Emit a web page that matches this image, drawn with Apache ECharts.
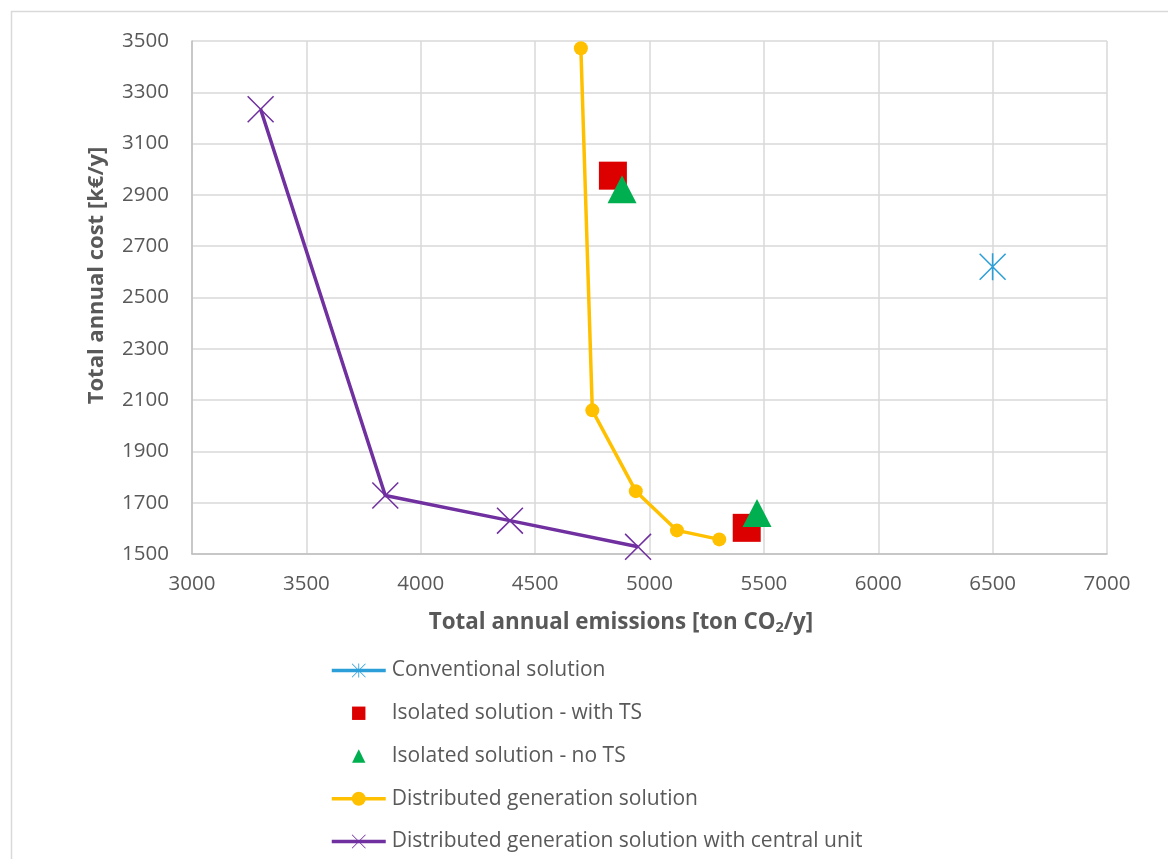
<!DOCTYPE html>
<html>
<head>
<meta charset="utf-8">
<script src="https://cdn.jsdelivr.net/npm/echarts@6/dist/echarts.min.js"></script>
<style>
html,body{margin:0;padding:0;background:#fff;}
#chart{width:1168px;height:859px;}
</style>
</head>
<body>
<div id="chart"></div>
<script>
// ---- data ----
const conventional = [[6500, 2620]];
const isolatedWithTS = [[4840, 2975], [5425, 1602]];
const isolatedNoTS = [[4880, 2922], [5470, 1660]];
const distributedGen = [[4700, 3472], [4750, 2060], [4940, 1745], [5120, 1592], [5305, 1557]];
const distributedCentral = [[3300, 3234], [3845, 1728], [4390, 1630], [4950, 1528]];
const seriesNames = [
  'Conventional solution',
  'Isolated solution - with TS',
  'Isolated solution - no TS',
  'Distributed generation solution',
  'Distributed generation solution with central unit'
];
const xTitle = 'Total annual emissions [ton CO{sub|2}/y]';
const yTitle = 'Total annual cost [k€/y]';

const FONT = '"Open Sans", Lato, sans-serif';
const TXT = '#595959';
const xPath = 'path://M0,4 L4,0 L100,96 L96,100 Z M96,0 L100,4 L4,100 L0,96 Z';
const starPath = 'path://M0,4 L4,0 L100,96 L96,100 Z M96,0 L100,4 L4,100 L0,96 Z M47,0 L53,0 L53,100 L47,100 Z';
const legendSquare = 'path://M0,0 L0,0 M2,2 L15,2 L15,15 L2,15 Z M17,17 L17,17';
const legendTriangle = 'path://M0,0 L0,0 M8.5,2 L15,15 L2,15 Z M17,17 L17,17';

const chart = echarts.init(document.getElementById('chart'), null, {renderer: 'canvas'});
chart.setOption({
  animation: false,
  backgroundColor: '#fff',
  graphic: [{
    type: 'rect', left: 9, top: 9, z: -1,
    shape: {width: 1200, height: 900},
    style: {fill: 'none', stroke: '#D9D9D9', lineWidth: 1.5}
  }],
  grid: {left: 192, top: 41, width: 915, height: 513, containLabel: false},
  xAxis: {
    type: 'value', min: 3000, max: 7000, interval: 500,
    axisLine: {show: true, lineStyle: {color: '#BFBFBF', width: 1.5}},
    axisTick: {show: false},
    splitLine: {show: true, lineStyle: {color: '#D9D9D9', width: 1.5}},
    axisLabel: {color: TXT, fontFamily: FONT, fontSize: 20.5, margin: 20, formatter: v => String(v)},
    name: xTitle,
    nameLocation: 'middle', nameGap: 56,
    nameTextStyle: {
      color: TXT, fontFamily: FONT, fontSize: 22.4, fontWeight: 'bold',
      padding: [0, 57, 0, 0],
      rich: {sub: {fontSize: 14.5, fontWeight: 'bold', color: TXT, fontFamily: FONT, verticalAlign: 'bottom', padding: [10, 0, 0, 0]}}
    }
  },
  yAxis: {
    type: 'value', min: 1500, max: 3500, interval: 200,
    axisLine: {show: true, lineStyle: {color: '#BFBFBF', width: 1.5}},
    axisTick: {show: false},
    splitLine: {show: true, lineStyle: {color: '#D9D9D9', width: 1.5}},
    axisLabel: {color: TXT, fontFamily: FONT, fontSize: 20.5, margin: 23, formatter: v => String(v)},
    name: yTitle,
    nameLocation: 'middle', nameGap: 84,
    nameTextStyle: {
      color: TXT, fontFamily: FONT, fontSize: 22, fontWeight: 'bold',
      padding: [0, 0, 0, 44]
    }
  },
  legend: {
    orient: 'vertical', left: 330, top: 660, padding: 0,
    itemWidth: 54, itemHeight: 17.5, itemGap: 21.75,
    lineStyle: {width: 3.5},
    textStyle: {color: TXT, fontFamily: FONT, fontSize: 21, lineHeight: 20, padding: [0, 0, 0, 1]},
    data: [
      {name: seriesNames[0]},
      {name: seriesNames[1], icon: legendSquare},
      {name: seriesNames[2], icon: legendTriangle},
      {name: seriesNames[3]},
      {name: seriesNames[4]}
    ]
  },
  series: [
    {
      name: seriesNames[0], type: 'line', data: conventional,
      symbol: starPath, symbolSize: 27,
      lineStyle: {color: '#2C9FD9', width: 3.5},
      itemStyle: {color: '#2C9FD9'}
    },
    {
      name: seriesNames[1], type: 'scatter', data: isolatedWithTS,
      symbol: 'rect', symbolSize: 28,
      itemStyle: {color: '#DD0000', opacity: 1}
    },
    {
      name: seriesNames[2], type: 'scatter', data: isolatedNoTS,
      symbol: 'triangle', symbolSize: [29, 28],
      itemStyle: {color: '#00B050', opacity: 1}
    },
    {
      name: seriesNames[3], type: 'line', data: distributedGen,
      symbol: 'circle', symbolSize: 14, showAllSymbol: true,
      lineStyle: {color: '#FFC000', width: 3.5},
      itemStyle: {color: '#FFC000', borderWidth: 0}
    },
    {
      name: seriesNames[4], type: 'line', data: distributedCentral,
      symbol: xPath, symbolSize: 27, showAllSymbol: true,
      lineStyle: {color: '#7030A0', width: 3.5},
      itemStyle: {color: '#7030A0', borderWidth: 0}
    }
  ]
});
</script>
</body>
</html>
